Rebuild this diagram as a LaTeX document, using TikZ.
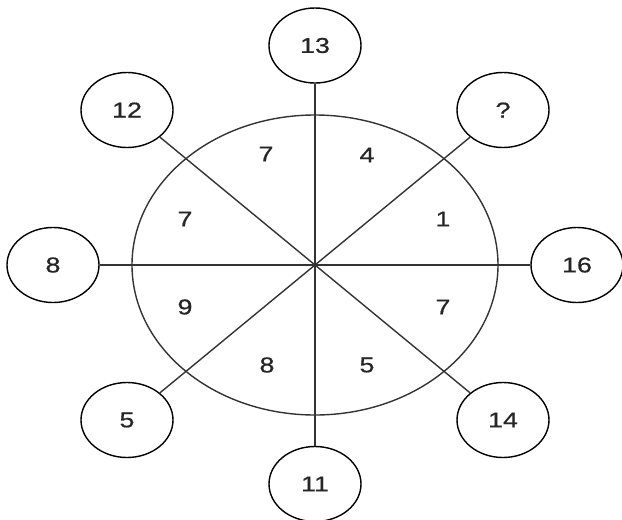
\documentclass[tikz,border=0pt]{standalone}
\usepackage{fontspec}
\setmainfont{Liberation Sans}[BoldFont={Liberation Sans}, BoldFeatures={FakeBold=0.6}]
\usetikzlibrary{shapes.geometric}
\newcommand{\wdtxt}[1]{\scalebox{1.25}[1]{\bfseries #1}}
\tikzset{
  numbox/.style={draw, ellipse, minimum width=92pt, minimum height=75pt, inner sep=0pt, line width=1.4pt, text=black!85},
  seglabel/.style={inner sep=0pt, text=black!85},
  spoke/.style={line width=1.4pt, draw=black!80}
}
\begin{document}
\begin{tikzpicture}[x=1pt, y=-1pt, font=\fontsize{21.5}{22}\selectfont]
\useasboundingbox (0,0) rectangle (622,520);
\coordinate (c) at (315,265);
\draw[spoke] (c) ellipse [x radius=183, y radius=150];
\node[numbox] (n13) at (315,45.5) {\wdtxt{13}};
\node[numbox] (n11) at (315,484) {\wdtxt{11}};
\node[numbox] (n8) at (53,265) {\wdtxt{8}};
\node[numbox] (n16) at (577,265) {\wdtxt{16}};
\node[numbox] (n12) at (127,110) {\wdtxt{12}};
\node[numbox] (nq) at (503,110) {\wdtxt{?}};
\node[numbox] (n5) at (127,420) {\wdtxt{5}};
\node[numbox] (n14) at (503,420) {\wdtxt{14}};
\draw[spoke] (n13) -- (n11);
\draw[spoke] (n8) -- (n16);
\draw[spoke] (n12) -- (n14);
\draw[spoke] (nq) -- (n5);
\node[seglabel] (l1) at (266,154) {\wdtxt{7}};
\node[seglabel] (l2) at (367,155) {\wdtxt{4}};
\node[seglabel] (l3) at (185,219) {\wdtxt{7}};
\node[seglabel] (l4) at (443,219) {\wdtxt{1}};
\node[seglabel] (l5) at (185,307) {\wdtxt{9}};
\node[seglabel] (l6) at (443,307) {\wdtxt{7}};
\node[seglabel] (l7) at (267,365) {\wdtxt{8}};
\node[seglabel] (l8) at (367,365) {\wdtxt{5}};
\end{tikzpicture}
\end{document}
